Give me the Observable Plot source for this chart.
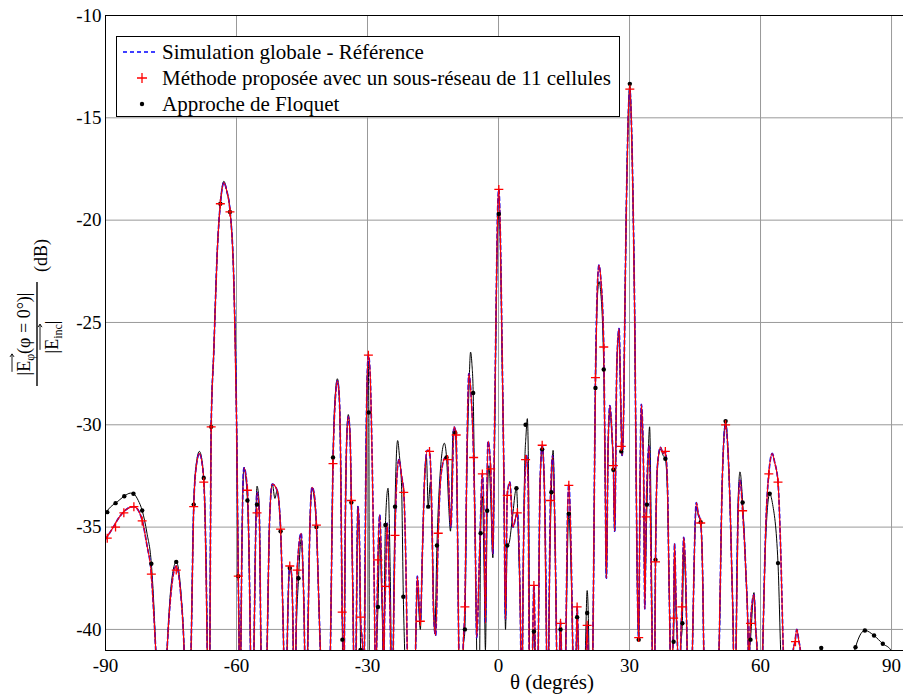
<!DOCTYPE html>
<html><head><meta charset="utf-8">
<script src="https://cdn.jsdelivr.net/npm/d3@7"></script>
<script src="https://cdn.jsdelivr.net/npm/@observablehq/plot@0.6"></script>
<style>
html,body{margin:0;padding:0;background:#fff;overflow:hidden;}
#chart svg{display:block;}
</style></head>
<body><div id="chart"></div>
<script>
const xTicks = [-90, -60, -30, 0, 30, 60, 90];
const yTicks = [-40, -35, -30, -25, -20, -15, -10];
const seriesNames = ["Simulation globale - Référence", "Méthode proposée avec un sous-réseau de 11 cellules", "Approche de Floquet"];
const xLabel = "θ (degrés)";

// Reference (global simulation), [theta, dB]; values below -41 fall outside the frame
const refCurve = [
[-90,-35.6],[-88.5,-35.1],[-86.8,-34.5],[-85,-34.1],[-83.5,-34.0],[-82.2,-34.3],[-81.5,-34.75],[-80.5,-35.9],[-79.5,-37.3],[-79,-39],[-78.5,-41],[-77.2,-48],
[-75.9,-41],[-75,-38.2],[-73.8,-36.9],[-72.8,-38.2],[-72,-41],[-71.2,-48],
[-70.4,-41],[-69.8,-34.0],[-69.2,-32.0],[-68.5,-31.4],[-67.7,-32.2],[-67.2,-34.5],[-66.7,-41],[-66.4,-48],
[-66.1,-41],[-65.8,-30.1],[-65.2,-26.4],[-64.4,-21.5],[-63.7,-19.2],[-62.9,-18.17],[-62.2,-18.6],[-61.5,-19.5],[-60.6,-23.1],[-60.0,-29.6],[-59.6,-37.4],[-59.4,-41],[-59.2,-48],
[-59.0,-41],[-58.3,-32.1],[-57.5,-33.2],[-57.0,-38],[-56.8,-41],[-56.4,-48],
[-56.0,-41],[-55.3,-33.3],[-54.8,-34.3],[-54.4,-41],[-53.7,-48],
[-53.0,-41],[-52.4,-34.5],[-51.8,-32.9],[-50.7,-33.2],[-49.9,-35.1],[-49.4,-39],[-49.2,-41],[-48.8,-48],
[-48.4,-41],[-47.8,-36.9],[-47.4,-37.3],[-47.0,-41],[-46.7,-48],
[-46.4,-41],[-46.1,-37.1],[-45.2,-35.3],[-44.8,-37],[-44.4,-41],[-44.1,-48],
[-43.7,-41],[-43.2,-35],[-42.7,-33.05],[-42.2,-33.4],[-41.7,-34.9],[-41.1,-39],[-40.8,-41],[-39.6,-48],
[-38.5,-41],[-37.9,-31.9],[-37.3,-28.5],[-36.9,-27.85],[-36.5,-28.5],[-36.2,-31],[-35.8,-39.15],[-35.6,-41],[-35.45,-48],
[-35.3,-41],[-34.8,-31],[-34.4,-29.6],[-34.0,-30.5],[-33.7,-33.7],[-33.2,-41],[-32.9,-48],
[-32.6,-41],[-32.2,-34.0],[-31.8,-36],[-31.6,-39.4],[-31.1,-41],[-30.9,-48],
[-30.7,-41],[-30.2,-29],[-29.8,-26.6],[-29.4,-27.5],[-29.0,-31],[-28.6,-36],[-28.3,-41],[-28.1,-48],
[-27.9,-41],[-27.6,-36.6],[-27.2,-34.4],[-26.7,-38],[-26.4,-41],[-26.3,-48],
[-26.2,-41],[-25.9,-37.9],[-25.5,-34.8],[-25.1,-37],[-24.7,-41],[-24.4,-48],
[-24.1,-41],[-23.7,-35.4],[-23.2,-32.3],[-22.8,-31.7],[-22.2,-32.5],[-21.7,-33.3],[-21.2,-37],[-20.9,-41],[-20.0,-48],
[-19.0,-41],[-18.6,-37.4],[-17.9,-39.6],[-17.4,-36],[-16.9,-32.5],[-16.3,-31.25],[-15.8,-31.3],[-15.2,-35],[-14.9,-39],[-14.4,-40.3],
[-13.8,-35.3],[-13.2,-32.5],[-12.2,-31.6],[-11.7,-31.7],[-11.2,-34],[-10.9,-35],[-10.2,-30.1],[-9.7,-30.5],[-9.4,-35],[-9.1,-41],[-8.6,-48],
[-8.1,-41],[-7.7,-38.9],[-7.2,-31],[-6.8,-27.5],[-6.3,-28.5],[-5.7,-31.6],[-5.3,-36],[-5.0,-40.4],
[-4.3,-36],[-3.7,-32.4],[-3.3,-35],[-3.0,-39.7],[-2.7,-34],[-2.4,-30.8],[-1.8,-32.15],[-1.3,-36.3],
[-0.9,-30],[-0.5,-23.5],[-0.2,-19.5],[0.07,-18.5],[0.4,-20.5],[0.8,-26],[1.2,-32],[1.6,-39.5],
[2.0,-33.45],[2.6,-32.8],[3.3,-35],[4.3,-34.3],[4.9,-38],[5.1,-41],[5.3,-48],
[5.5,-41],[6.0,-33],[6.4,-31.5],[6.8,-33],[7.0,-41],[7.4,-48],
[7.8,-41],[8.1,-37.85],[8.4,-41],[8.7,-48],
[9.1,-41],[9.5,-33],[10.0,-31.0],[10.5,-33],[11.0,-41],[11.25,-48],
[11.5,-41],[11.9,-33.7],[12.4,-31.5],[12.9,-35],[13.3,-41],[13.6,-48],
[14.0,-41],[14.2,-39.6],[14.4,-41],[14.8,-48],
[15.4,-41],[15.8,-34.5],[16.1,-32.9],[16.6,-36],[17.0,-41],[17.4,-48],
[17.8,-41],[18.0,-38.9],[18.3,-41],[19.2,-48],
[20.1,-41],[20.3,-39.8],[20.5,-41],[21.0,-48],
[21.6,-41],[22.2,-27.7],[22.6,-23.5],[23.0,-22.2],[23.4,-22.8],[24.1,-26.2],[24.4,-32],[24.7,-37.5],
[25.1,-31],[25.5,-29.06],[26.0,-30.5],[26.3,-32.0],[26.6,-35.2],[27.1,-27],[27.6,-25.3],[28.0,-29],[28.3,-31.5],
[28.6,-30],[28.9,-25],[29.3,-19],[29.7,-15],[30.07,-13.6],[30.4,-15],[30.8,-19],[31.2,-25],[31.5,-32],[31.8,-38],[32.1,-40.4],
[32.4,-33],[32.7,-29],[33.2,-32],[33.5,-39],[33.8,-34.5],[34.5,-31],[35.0,-38],[35.2,-41],[35.4,-48],
[35.8,-41],[35.95,-36.7],[36.4,-32],[37.1,-31.1],[37.7,-31.4],[38.2,-31.3],[38.7,-33],[39.0,-37],[39.3,-41],[39.6,-48],
[39.9,-41],[40.1,-39.45],[40.3,-35.8],[40.7,-39],[41.0,-41],[41.35,-48],
[41.7,-41],[42.0,-38.9],[42.4,-35.5],[42.8,-37],[43.2,-41],[43.8,-48],
[44.4,-41],[45.3,-33.8],[45.7,-34.3],[46.3,-34.8],[46.8,-38],[47.0,-41],[48.6,-48],
[50.5,-41],[51.2,-33],[52.0,-30.0],[52.6,-31.5],[53.4,-37],[53.8,-41],[54.1,-48],
[54.4,-41],[54.9,-34],[55.3,-32.7],[55.9,-34.2],[56.6,-37],[57.2,-41],[57.35,-48],
[57.5,-41],[57.7,-39.7],[58.5,-38.3],[58.9,-40],[59.2,-41],[59.8,-48],
[60.5,-41],[61.2,-35],[61.9,-32.36],[62.7,-31.4],[63.2,-31.8],[64.0,-32.8],[64.6,-36],[65.2,-41],[66.3,-48],
[67.5,-41],[67.9,-40.6],[68.3,-40.0],[68.8,-40.6],[69.1,-41],[70,-48]
];

// Proposed method (11-cell sub-array): its line coincides with the reference at this scale
const proposedCurve = refCurve;

// Floquet approach, [theta, dB]
const floquetCurve = [
[-90,-34.3],[-88.5,-33.95],[-87.7,-33.83],[-85.7,-33.49],[-84.3,-33.34],[-83.6,-33.37],[-82.5,-33.7],[-81.6,-34.19],[-80.5,-35.3],[-79.5,-36.79],[-79,-38.5],[-78.5,-41],[-77.2,-48],
[-75.9,-41],[-75,-37.9],[-73.8,-36.7],[-72.8,-38],[-72,-41],[-71.2,-48],
[-70.4,-41],[-69.8,-33.9],[-69.2,-31.9],[-68.5,-31.3],[-67.7,-32.1],[-67.2,-34.3],[-66.7,-41],[-66.4,-48],
[-66.1,-41],[-65.8,-30.1],[-65.2,-26.4],[-64.4,-21.5],[-63.7,-19.2],[-62.9,-18.1],[-62.2,-18.6],[-61.5,-19.5],[-60.6,-23.1],[-60.0,-29.6],[-59.6,-37.4],[-59.4,-41],[-59.2,-48],
[-59.0,-41],[-58.3,-32.1],[-57.5,-33.7],[-57.0,-38],[-56.8,-41],[-56.4,-48],
[-56.0,-41],[-55.3,-33.0],[-54.8,-33.9],[-54.4,-41],[-53.7,-48],
[-53.0,-41],[-52.4,-34.5],[-51.8,-32.9],[-51.2,-33.6],[-50.7,-33.2],[-49.9,-35.2],[-49.4,-39],[-49.2,-41],[-48.8,-48],
[-48.4,-41],[-47.8,-37.0],[-47.4,-37.3],[-47.0,-41],[-46.7,-48],
[-46.4,-41],[-45.8,-37.5],[-45.2,-35.6],[-44.8,-37],[-44.4,-41],[-44.1,-48],
[-43.7,-41],[-43.2,-35],[-42.7,-33.1],[-42.2,-33.6],[-41.7,-35.0],[-41.1,-39],[-40.8,-41],[-39.6,-48],
[-38.5,-41],[-37.9,-31.6],[-37.3,-28.3],[-36.9,-27.75],[-36.5,-28.5],[-36.2,-31],[-35.8,-39.2],[-35.75,-40.5],[-35.55,-48],
[-35.3,-41],[-34.8,-31],[-34.4,-29.5],[-34.0,-30.5],[-33.7,-33.8],[-33.2,-41],[-32.9,-48],
[-32.6,-41],[-32.2,-34.0],[-31.8,-36.5],[-31.6,-41],[-31.3,-48],
[-30.7,-41],[-30.2,-29],[-29.85,-26.9],[-29.7,-29.4],[-29.6,-41],[-29.4,-48],
[-28.0,-41],[-27.6,-38.9],[-27.2,-35.5],[-26.8,-38],[-26.5,-41],[-26.35,-48],
[-26.2,-41],[-25.9,-34.9],[-25.3,-33.1],[-24.9,-36],[-24.6,-41],[-24.4,-48],
[-24.1,-41],[-23.7,-34.0],[-23.1,-30.77],[-22.7,-31.5],[-22.2,-33],[-21.8,-38.4],[-21.5,-41],[-20.0,-48],
[-19.0,-41],[-18.6,-38],[-17.9,-40],[-17.4,-36],[-16.9,-32.5],[-16.5,-31.6],[-16.1,-34.0],[-15.6,-32.8],[-15.2,-35.5],[-14.6,-40.2],
[-14.1,-35.9],[-13.4,-32.5],[-12.4,-30.9],[-11.9,-31.6],[-11.4,-34],[-11.0,-35.2],[-10.4,-30.3],[-9.9,-30.4],[-9.4,-35],[-9.1,-41],[-8.6,-48],
[-8.1,-41],[-7.7,-40.0],[-7.3,-33],[-6.8,-28.5],[-6.4,-26.45],[-6.1,-27],[-5.8,-28.45],[-5.5,-33],[-5.2,-38],[-5.0,-41],[-4.7,-48],
[-4.3,-41],[-4.1,-35.3],[-3.7,-33.5],[-3.3,-37],[-3.0,-41],[-2.6,-34.2],[-2.2,-32],[-1.8,-33.5],[-1.3,-36.5],
[-0.9,-31],[-0.5,-24],[-0.2,-20.5],[0.07,-19.7],[0.4,-21],[0.8,-26.5],[1.2,-32],[1.6,-40],
[2.0,-35.9],[2.4,-35.8],[3.1,-34.7],[4.1,-33.1],[4.6,-36],[5.1,-41],[5.3,-48],
[5.5,-41],[6.0,-32],[6.3,-30.5],[6.6,-29.7],[6.9,-33],[7.1,-41],[7.4,-48],
[7.8,-41],[8.1,-40.1],[8.3,-41],[8.7,-48],
[9.1,-41],[9.5,-33],[10.0,-31.2],[10.5,-33],[11.0,-41],[11.25,-48],
[11.5,-41],[12.1,-33.3],[12.5,-31.25],[12.9,-35],[13.3,-41],[13.6,-48],
[14.0,-41],[14.2,-40.0],[14.4,-41],[14.8,-48],
[15.4,-41],[16.1,-34.35],[16.6,-37],[17.0,-41],[17.4,-48],
[17.8,-41],[18.0,-39.4],[18.3,-41],[19.2,-48],
[19.9,-41],[20.3,-38.1],[20.7,-41],[21.0,-48],
[21.6,-41],[22.2,-28.2],[22.6,-24],[23.0,-23.0],[23.4,-23.5],[24.1,-27.3],[24.4,-32],[24.7,-37.5],
[25.1,-31],[25.5,-29.3],[26.0,-30.7],[26.3,-32.2],[26.6,-35.2],[27.1,-27],[27.6,-25.5],[28.0,-29],[28.3,-31.5],
[28.6,-30],[28.9,-25],[29.3,-19],[29.7,-15],[30.07,-13.34],[30.4,-15],[30.8,-19],[31.2,-25],[31.5,-32],[31.8,-38],[32.1,-40.5],
[32.4,-33.5],[32.7,-29.5],[33.2,-32],[33.5,-38],[34.0,-33.9],[34.6,-30.1],[35.0,-36],[35.2,-41],[35.4,-48],
[35.8,-41],[35.95,-36.6],[36.4,-32],[37.1,-31.2],[37.7,-31.5],[38.2,-31.66],[38.7,-33.5],[39.0,-37],[39.3,-41],[39.6,-48],
[39.9,-41],[40.1,-40.6],[40.3,-36.5],[40.7,-39.5],[41.0,-41],[41.35,-48],
[41.7,-41],[42.1,-39.7],[42.4,-36.2],[42.8,-37.5],[43.2,-41],[43.8,-48],
[44.4,-41],[45.3,-34.0],[45.7,-34.4],[46.3,-34.76],[46.8,-38],[47.0,-41],[48.6,-48],
[50.5,-41],[51.2,-33],[52.0,-29.82],[52.6,-31.5],[53.4,-37],[53.8,-41],[54.1,-48],
[54.4,-41],[54.9,-33.5],[55.3,-32.3],[55.9,-33.8],[56.6,-37],[57.2,-41],[57.35,-48],
[57.5,-41],[57.7,-40.5],[58.5,-38.2],[58.9,-40],[59.2,-41],[59.8,-48],
[60.5,-41],[61.2,-35.5],[62.1,-33.37],[62.7,-33.8],[64.0,-36.76],[64.6,-41],[66.3,-48],
[72,-48],[73.4,-41.3],[73.9,-40.9],[74.4,-41.3],[76,-48],
[81.2,-41.3],[81.75,-40.87],[83.0,-40.2],[83.9,-40.05],[86.0,-40.3],[88.0,-40.7],[89.8,-41],[91,-42]
];

// Marker samples (every ~2 degrees), only those visible inside the frame
const proposedMarks = [
[-89.6,-35.54],[-87.7,-35.0],[-85.8,-34.3],[-83.5,-34.0],[-81.6,-34.7],[-79.5,-37.3],[-73.8,-37.1],[-69.8,-34.0],[-67.5,-32.8],
[-65.8,-30.1],[-63.7,-19.2],[-61.5,-19.6],[-59.6,-37.4],[-57.5,-33.2],[-55.3,-34.3],[-49.9,-35.1],[-47.8,-36.9],[-46.1,-37.1],
[-41.7,-34.9],[-37.9,-31.9],[-35.8,-39.15],[-33.7,-33.7],[-31.6,-39.4],[-29.8,-26.6],[-27.6,-36.6],[-25.9,-37.9],[-23.7,-35.4],
[-21.7,-33.3],[-17.9,-39.6],[-15.8,-31.3],[-13.8,-35.3],[-11.7,-31.7],[-9.7,-30.5],[-7.7,-38.9],[-5.7,-31.6],[-3.7,-32.4],
[-1.8,-32.15],[0.07,-18.5],[2.0,-33.45],[4.3,-34.3],[6.2,-31.7],[8.1,-37.85],[10.0,-31.0],[11.9,-33.7],[14.2,-39.7],[16.1,-32.96],
[18.0,-38.9],[20.3,-39.8],[22.2,-27.7],[24.1,-26.2],[26.3,-32.0],[28.1,-31.06],[30.07,-13.6],[32.1,-40.4],[33.8,-34.5],[35.95,-36.7],
[38.2,-31.3],[40.1,-39.45],[42.0,-38.9],[46.3,-34.8],[52.0,-30.0],[55.9,-34.2],[57.7,-39.7],[61.9,-32.4],[64.0,-32.8],[68.0,-40.6]
];
const floquetMarks = [
[-89.6,-34.27],[-87.7,-33.83],[-85.7,-33.49],[-83.6,-33.37],[-81.6,-34.19],[-79.5,-36.79],[-73.8,-36.7],[-69.8,-33.9],[-67.5,-32.6],
[-65.8,-30.1],[-63.7,-19.2],[-61.5,-19.6],[-59.6,-37.4],[-57.5,-33.7],[-55.3,-33.9],[-49.9,-35.2],[-47.8,-37.0],[-45.8,-37.5],
[-41.7,-35.0],[-37.9,-31.6],[-35.75,-40.5],[-33.7,-33.8],[-31.6,-41.0],[-29.7,-29.4],[-27.6,-38.9],[-25.9,-34.9],[-23.7,-34.0],
[-21.8,-38.4],[-16.1,-34.0],[-14.1,-35.9],[-11.9,-31.6],[-9.9,-30.4],[-7.7,-40.0],[-5.8,-28.45],[-4.1,-35.3],[-2.6,-34.2],
[0.07,-19.7],[2.0,-35.9],[4.1,-33.1],[6.2,-30.0],[8.1,-40.1],[10.0,-31.2],[12.1,-33.3],[14.2,-40.0],[16.1,-34.35],[18.0,-39.4],
[20.3,-39.2],[22.2,-28.2],[24.1,-27.3],[26.3,-32.2],[28.1,-31.3],[30.07,-13.34],[32.1,-40.5],[34.0,-33.9],[35.95,-36.6],[38.2,-31.66],
[40.1,-40.6],[42.1,-39.7],[46.3,-34.76],[52.0,-29.82],[55.9,-33.8],[57.7,-40.5],[62.1,-33.37],[64.0,-36.76],
[73.9,-40.9],[81.75,-40.87],[83.9,-40.05],[86.0,-40.3],[88.0,-40.7]
];

const plusSymbol = {
  draw(ctx, size) {
    const r = Math.sqrt(size / Math.PI);
    ctx.moveTo(-r, 0); ctx.lineTo(r, 0);
    ctx.moveTo(0, -r); ctx.lineTo(0, r);
  }
};

const FONT = "'Liberation Serif','Times New Roman',serif";
const px = d => d[0], py = d => d[1];

const chart = Plot.plot({
  width: 903, height: 696,
  marginLeft: 105, marginRight: 0, marginTop: 15, marginBottom: 46,
  style: {fontFamily: FONT, fontSize: "19px", background: "white", color: "black", overflow: "visible"},
  x: {domain: [-90, 92.74]},
  y: {domain: [-41.03, -10]},
  marks: [
    Plot.gridX(xTicks, {stroke: "#999", strokeOpacity: 1, strokeWidth: 1}),
    Plot.gridY(yTicks, {stroke: "#999", strokeOpacity: 1, strokeWidth: 1}),
    Plot.line(floquetCurve, {x: px, y: py, stroke: "black", strokeWidth: 1, curve: "monotone-x", clip: true}),
    Plot.line(refCurve, {x: px, y: py, stroke: "#0000ff", strokeWidth: 1.7, strokeDasharray: "4,3", curve: "monotone-x", clip: true}),
    Plot.line(proposedCurve, {x: px, y: py, stroke: "#ff0000", strokeWidth: 1.1, curve: "monotone-x", clip: true}),
    Plot.dot(floquetMarks, {x: px, y: py, r: 2.2, fill: "black", stroke: "none", clip: true}),
    Plot.dot(proposedMarks, {x: px, y: py, symbol: plusSymbol, r: 4.5, fill: "none", stroke: "#ff0000", strokeWidth: 1.3, clip: true}),
    Plot.axisX(xTicks, {tickSize: 0, tickPadding: 8, tickFormat: d => String(d), label: null}),
    Plot.axisY(yTicks, {tickSize: 0, tickPadding: 4, tickFormat: d => String(d), label: null}),
    Plot.frame({stroke: "black", strokeWidth: 1})
  ]
});
document.getElementById("chart").appendChild(chart);

const svg = d3.select(chart);

// x label
svg.append("text").attr("x", 552).attr("y", 689).attr("text-anchor", "middle")
  .attr("font-family", FONT).attr("font-size", 21).attr("fill", "black").text(xLabel);

// legend
const lg = svg.append("g").attr("font-family", FONT).attr("font-size", 21).attr("text-anchor", "start");
lg.append("rect").attr("x", 116.5).attr("y", 36.5).attr("width", 503).attr("height", 80)
  .attr("fill", "white").attr("stroke", "black").attr("stroke-width", 1);
const rowY = [52, 78, 104];
lg.append("line").attr("x1", 123).attr("x2", 156).attr("y1", rowY[0]).attr("y2", rowY[0])
  .attr("stroke", "#0000ff").attr("stroke-width", 1.5).attr("stroke-dasharray", "4,3");
lg.append("path").attr("d", `M137,${rowY[1]}h10M142,${rowY[1]-5}v10`).attr("stroke", "#ff0000").attr("stroke-width", 1.3);
lg.append("circle").attr("cx", 142).attr("cy", rowY[2]).attr("r", 2.2).attr("fill", "black");
seriesNames.forEach((s, i) => {
  lg.append("text").attr("x", 162).attr("y", rowY[i]).attr("dy", "0.35em")
    .attr("text-anchor", "start").attr("fill", "black").text(s);
});

// y label: fraction |E_phi(phi = 0°)| / |E_inc| (dB), rotated
const yl = svg.append("g").attr("transform", "translate(37,334) rotate(-90)")
  .attr("font-family", FONT).attr("font-size", 18).attr("fill", "black");
const num = yl.append("text").attr("x", 0).attr("y", -7).attr("text-anchor", "middle");
num.append("tspan").text("|E");
num.append("tspan").attr("font-size", 12).attr("dy", 4).text("φ");
num.append("tspan").attr("dy", -4).text("(φ = 0°)|");
const den = yl.append("text").attr("x", -3).attr("y", 21).attr("text-anchor", "middle");
den.append("tspan").text("|E");
den.append("tspan").attr("font-size", 12).attr("dy", 4).text("inc");
den.append("tspan").attr("dy", -4).text("|");
yl.append("line").attr("x1", -52).attr("x2", 52).attr("y1", 0).attr("y2", 0).attr("stroke", "black").attr("stroke-width", 1.4);
yl.append("text").attr("x", 62).attr("y", 10).attr("text-anchor", "start").attr("font-size", 18).text("(dB)");

// arrows over E in numerator and denominator
function arrowOver(textSel, i0, i1) {
  const t = textSel.node();
  const a = t.getExtentOfChar(i0), b = t.getExtentOfChar(i1);
  const x0 = a.x, x1 = b.x + b.width, y = a.y - 2;
  yl.append("path").attr("d", `M${x0},${y}H${x1}M${x1-3},${y-2}L${x1},${y}L${x1-3},${y+2}`)
    .attr("stroke", "black").attr("stroke-width", 0.9).attr("fill", "none");
}
try { arrowOver(num, 1, 2); arrowOver(den, 1, 4); } catch (e) {}
</script>
</body></html>
